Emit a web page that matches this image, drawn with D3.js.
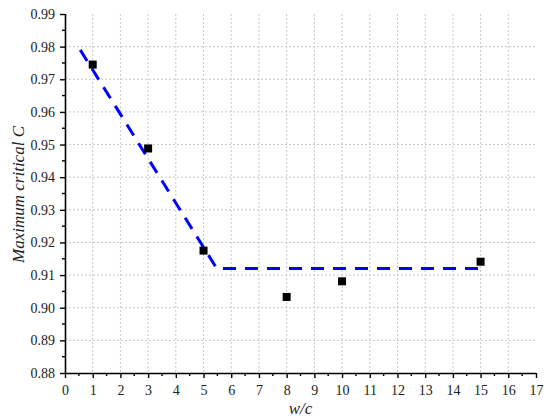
<!DOCTYPE html>
<html><head><meta charset="utf-8">
<script src="https://cdn.jsdelivr.net/npm/d3@7"></script>
<style>body{margin:0;background:#fff}svg{display:block}</style>
</head><body><svg id="c" width="550" height="420"></svg>
<script>
const xVals = [1, 3, 5, 8, 10, 15];
const yVals = [0.9745, 0.9488, 0.9175, 0.9033, 0.9081, 0.9141];
const fitX = [0.55, 5.48, 15];
const fitY = [0.979, 0.912, 0.912];
const xTicks = [0,1,2,3,4,5,6,7,8,9,10,11,12,13,14,15,16,17];
const yTicks = [0.88,0.89,0.90,0.91,0.92,0.93,0.94,0.95,0.96,0.97,0.98,0.99];
const xLabel = "w/c";
const yLabel = "Maximum critical C";

const FONT = '"Liberation Serif"';
const svg = d3.select("#c");
const L = 65, R = 536, T = 14, B = 373;
const x = d3.scaleLinear().domain([0,17]).range([L,R]);
const y = d3.scaleLinear().domain([0.88,0.99]).range([B,T]);

// grid
const g = svg.append("g");
g.selectAll("line.vg").data(xTicks.filter(v=>v>0&&v<17)).join("line")
  .attr("x1",d=>x(d)).attr("x2",d=>x(d)).attr("y1",T).attr("y2",B)
  .attr("stroke","#c8c8c8").attr("stroke-width",1).attr("stroke-dasharray","2,2");
g.selectAll("line.hg").data(yTicks.filter(v=>v>0.885&&v<0.985)).join("line")
  .attr("x1",L).attr("x2",R).attr("y1",d=>y(d)).attr("y2",d=>y(d))
  .attr("stroke","#c8c8c8").attr("stroke-width",1).attr("stroke-dasharray","2,2");

// axes
const xAxis = d3.axisBottom(x).tickValues(xTicks).tickFormat(d3.format("d")).tickSize(5).tickPadding(7);
const yAxis = d3.axisLeft(y).tickValues(yTicks).tickFormat(d3.format(".2f")).tickSize(5).tickPadding(5);
const minorX = d3.range(0,17).map(i=>i+0.5);
const minorY = d3.range(0,11).map(i=>0.885+i*0.01);

const gx = svg.append("g").attr("transform",`translate(0,${B})`).call(xAxis);
const gy = svg.append("g").attr("transform",`translate(${L},0)`).call(yAxis);
[gx,gy].forEach(a=>{
  a.select(".domain").attr("stroke","#000").attr("stroke-width",1.6);
  a.selectAll(".tick line").attr("stroke","#000").attr("stroke-width",1.4);
  a.selectAll("text").style("font-family",FONT).attr("font-size",14).attr("fill","#222");
});
gx.select(".domain").attr("d",`M${L},0.5H${R}`);
gy.select(".domain").attr("d",`M0.5,${B}V${T}`);
svg.append("g").selectAll("line").data(minorX).join("line")
  .attr("x1",d=>x(d)).attr("x2",d=>x(d)).attr("y1",B).attr("y2",B+3)
  .attr("stroke","#000").attr("stroke-width",1.4);
svg.append("g").selectAll("line").data(minorY).join("line")
  .attr("x1",L).attr("x2",L-3).attr("y1",d=>y(d)).attr("y2",d=>y(d))
  .attr("stroke","#000").attr("stroke-width",1.4);

// fit line
const fit = fitX.map((v,i)=>[v,fitY[i]]);
svg.append("path").datum(fit)
  .attr("d",d3.line().x(d=>x(d[0])).y(d=>y(d[1])))
  .attr("fill","none").attr("stroke","#0000ff").attr("stroke-width",3)
  .attr("stroke-dasharray","13,9");

// points
svg.append("g").selectAll("rect").data(xVals.map((v,i)=>[v,yVals[i]])).join("rect")
  .attr("x",d=>x(d[0])-4).attr("y",d=>y(d[1])-4).attr("width",8).attr("height",8)
  .attr("fill","#000");

// labels
svg.append("text").attr("x",(L+R)/2).attr("y",414).attr("text-anchor","middle")
  .style("font-family",FONT).attr("font-style","italic").attr("font-size",17).attr("fill","#222").text(xLabel);
svg.append("text").attr("transform",`translate(24,${(T+B)/2+1}) rotate(-90)`).attr("text-anchor","middle")
  .style("font-family",FONT).attr("font-style","italic").attr("font-size",17).attr("fill","#222").text(yLabel);
</script></body></html>
